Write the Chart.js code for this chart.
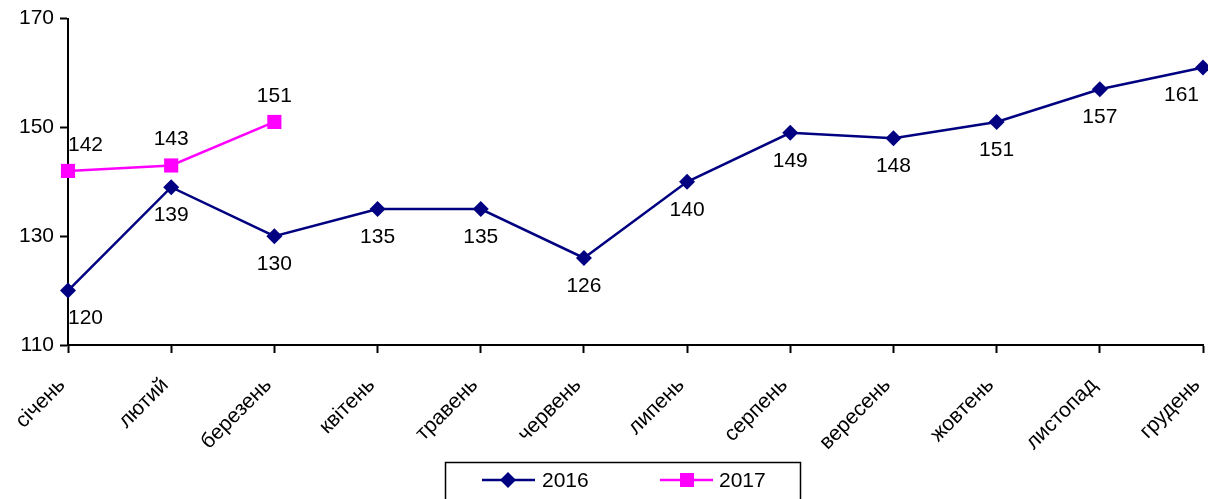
<!DOCTYPE html>
<html>
<head>
<meta charset="utf-8">
<script src="https://cdn.jsdelivr.net/npm/chart.js@4/dist/chart.umd.min.js"></script>
<style>
    body { margin: 0; background: #fff; }
    #wrap { width: 1208px; height: 499px; position: relative; }
</style>
</head>
<body>
<div id="wrap"><canvas id="priceChart"></canvas></div>
<script>
const months = ["січень", "лютий", "березень", "квітень", "травень", "червень",
    "липень", "серпень", "вересень", "жовтень", "листопад", "грудень"];
const values2016 = [120, 139, 130, 135, 135, 126, 140, 149, 148, 151, 157, 161];
const values2017 = [142, 143, 151];
const yTicks = [110, 130, 150, 170];

const FONT = "'Liberation Sans', Arial, sans-serif";
const NAVY = "#000080";
const PINK = "#FF00FF";

// value labels: 2016 below the points, 2017 above, kept inside the plot area
const valueLabels = {
    id: "valueLabels",
    afterDatasetsDraw(chart) {
        const ctx = chart.ctx;
        const area = chart.chartArea;
        ctx.save();
        ctx.font = "21px " + FONT;
        ctx.fillStyle = "#000";
        ctx.textAlign = "left";
        ctx.textBaseline = "middle";
        chart.data.datasets.forEach((ds, i) => {
            const meta = chart.getDatasetMeta(i);
            meta.data.forEach((pt, j) => {
                const text = String(ds.data[j]);
                const w = ctx.measureText(text).width;
                let x = pt.x - w / 2;
                if (x < area.left) x = area.left;
                if (x + w > area.right - 4) x = area.right - 4 - w;
                const y = i === 0 ? pt.y + 28 : pt.y - 26;
                ctx.fillText(text, x, y);
            });
        });
        ctx.restore();
    }
};

// boxed legend at the bottom
const boxLegend = {
    id: "boxLegend",
    afterDraw(chart) {
        const ctx = chart.ctx;
        ctx.save();
        ctx.strokeStyle = "#000";
        ctx.lineWidth = 1.5;
        ctx.strokeRect(445.5, 462.5, 355, 45);
        const y = 480;
        ctx.lineWidth = 2.5;
        ctx.strokeStyle = NAVY;
        ctx.beginPath(); ctx.moveTo(482, y); ctx.lineTo(535, y); ctx.stroke();
        ctx.fillStyle = NAVY;
        ctx.beginPath();
        ctx.moveTo(508, y - 8); ctx.lineTo(516, y); ctx.lineTo(508, y + 8); ctx.lineTo(500, y);
        ctx.closePath(); ctx.fill();
        ctx.strokeStyle = PINK;
        ctx.beginPath(); ctx.moveTo(660, y); ctx.lineTo(713, y); ctx.stroke();
        ctx.fillStyle = PINK;
        ctx.fillRect(680, y - 7, 14, 14);
        ctx.fillStyle = "#000";
        ctx.font = "21px " + FONT;
        ctx.textBaseline = "middle";
        ctx.fillText("2016", 542, y + 1);
        ctx.fillText("2017", 719, y + 1);
        ctx.restore();
    }
};

const ctx = document.getElementById("priceChart").getContext("2d");
new Chart(ctx, {
    type: "line",
    data: {
        labels: months,
        datasets: [
            {
                label: "2016",
                data: values2016,
                borderColor: NAVY,
                backgroundColor: NAVY,
                borderWidth: 2.5,
                pointStyle: "rectRot",
                pointRadius: 8,
                pointBorderWidth: 0,
                tension: 0,
                clip: false,
            },
            {
                label: "2017",
                data: values2017,
                borderColor: PINK,
                backgroundColor: PINK,
                borderWidth: 2.5,
                pointStyle: "rect",
                pointRadius: 10,
                pointBorderWidth: 0,
                tension: 0,
                clip: false,
            },
        ],
    },
    options: {
        responsive: true,
        maintainAspectRatio: false,
        animation: false,
        layout: { autoPadding: false, padding: { left: 0, top: 18, right: 5, bottom: 0 } },
        plugins: {
            legend: { display: false },
            tooltip: { enabled: false },
        },
        scales: {
            x: {
                type: "category",
                offset: false,
                afterFit: (scale) => {
                    scale.height = 154;
                    scale.paddingLeft = 0;
                    scale.paddingRight = 0;
                },
                border: { color: "#000", width: 2 },
                grid: { drawOnChartArea: false, drawTicks: true, tickLength: 8, color: "#000", tickWidth: 2 },
                ticks: {
                    color: "#000",
                    font: { family: FONT, size: 21 },
                    maxRotation: 45,
                    minRotation: 45,
                    autoSkip: false,
                    padding: 20,
                    labelOffset: -6,
                },
            },
            y: {
                min: 110,
                max: 170,
                afterFit: (scale) => { scale.width = 68; },
                afterBuildTicks: (scale) => { scale.ticks = yTicks.map((v) => ({ value: v })); },
                border: { color: "#000", width: 2 },
                grid: { drawOnChartArea: false, drawTicks: true, tickLength: 8, color: "#000", tickWidth: 2 },
                ticks: {
                    color: "#000",
                    font: { family: FONT, size: 21 },
                    padding: 6,
                },
            },
        },
    },
    plugins: [valueLabels, boxLegend],
});
</script>
</body>
</html>
